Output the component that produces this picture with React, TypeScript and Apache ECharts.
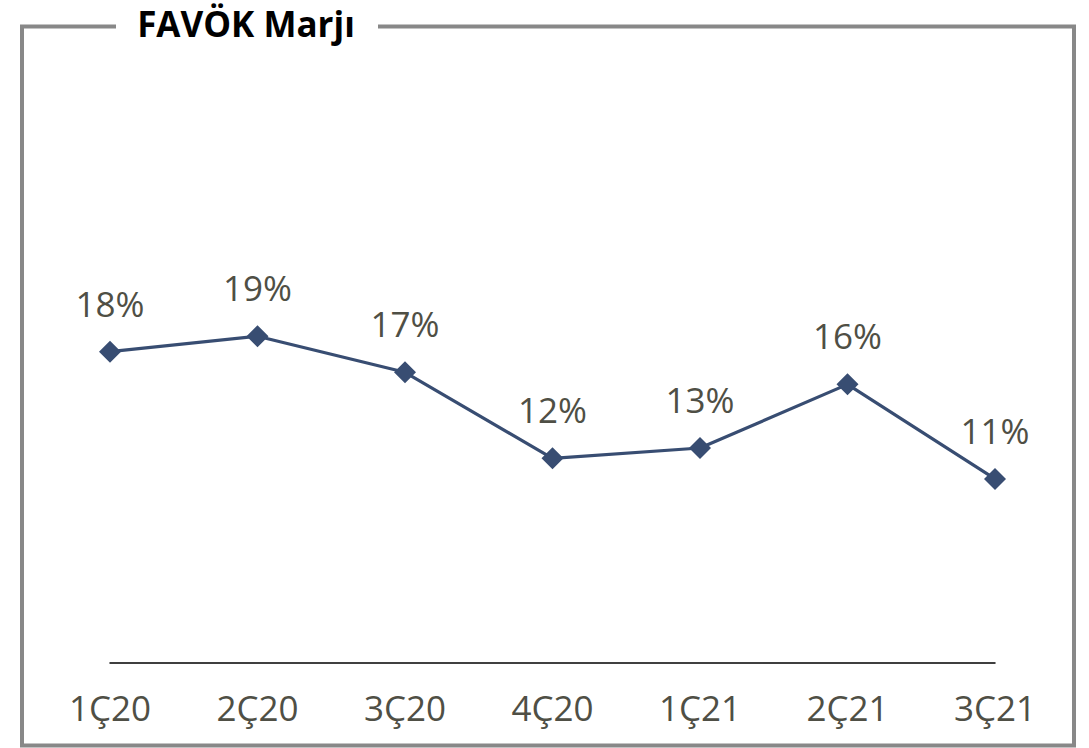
import React, { useEffect, useRef } from "react";
import * as echarts from "echarts";

const categories = ["1Ç20", "2Ç20", "3Ç20", "4Ç20", "1Ç21", "2Ç21", "3Ç21"];
const margins = [18.1, 19.0, 16.9, 11.9, 12.5, 16.2, 10.7];
const titleText = "FAVÖK Marjı";

const FONT = "'Open Sans', 'Noto Sans', sans-serif";
const TEXT_COLOR = "#4F4F45";
const LINE_COLOR = "#384D72";

export default function App() {
  const ref = useRef<HTMLDivElement>(null);
  useEffect(() => {
    document.body.style.margin = "0";
    const chart = echarts.init(ref.current!, null, { renderer: "svg" });
    chart.setOption({
      animation: false,
      backgroundColor: "#ffffff",
      grid: { left: 110, right: 94, top: 147, bottom: 85, containLabel: false },
      xAxis: {
        type: "category",
        data: categories,
        boundaryGap: false,
        axisLine: { show: true, lineStyle: { color: "#000000", width: 1.5 } },
        axisTick: { show: false },
        axisLabel: {
          color: TEXT_COLOR,
          fontFamily: FONT,
          fontSize: 35,
          margin: 27,
          interval: 0,
        },
        splitLine: { show: false },
      },
      yAxis: {
        type: "value",
        min: 0,
        max: 30,
        show: false,
      },
      series: [
        {
          type: "line",
          data: margins,
          symbol: "diamond",
          symbolSize: 22,
          lineStyle: { color: LINE_COLOR, width: 3.2 },
          itemStyle: { color: LINE_COLOR },
          label: {
            show: true,
            position: "top",
            distance: 20,
            color: TEXT_COLOR,
            fontFamily: FONT,
            fontSize: 35,
            formatter: (p: any) => Math.round(p.value) + "%",
          },
        },
      ],
      graphic: [
        {
          type: "rect",
          shape: { x: 22, y: 26.5, width: 1052, height: 719 },
          style: { fill: "none", stroke: "#888888", lineWidth: 4 },
          silent: true,
        },
        {
          type: "rect",
          shape: { x: 116, y: 10, width: 262, height: 30 },
          style: { fill: "#ffffff" },
          silent: true,
        },
        {
          type: "text",
          x: 246,
          y: 23,
          style: {
            text: titleText,
            fontFamily: FONT,
            fontWeight: "bold",
            fontSize: 35,
            fill: "#000000",
            align: "center",
            verticalAlign: "middle",
          },
          silent: true,
        },
      ],
    });
    return () => chart.dispose();
  }, []);
  return <div ref={ref} style={{ width: 1089, height: 748 }} />;
}
